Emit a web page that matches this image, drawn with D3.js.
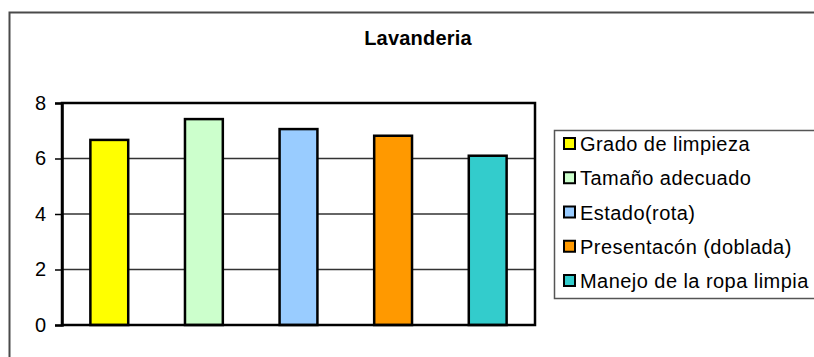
<!DOCTYPE html>
<html>
<head>
<meta charset="utf-8">
<script src="https://cdn.jsdelivr.net/npm/d3@7"></script>
<style>
  html, body { margin: 0; padding: 0; background: #fff; }
  svg { display: block; font-family: Arial, "Liberation Sans", sans-serif; }
</style>
</head>
<body>
<svg id="chart" width="814" height="357"></svg>
<script>
// Lavanderia survey scores
const categories = ["Grado de limpieza", "Tamaño adecuado", "Estado(rota)", "Presentacón (doblada)", "Manejo de la ropa limpia"];
const values = [6.67, 7.42, 7.06, 6.82, 6.10];
const colors = ["#FFFF00", "#CCFFCC", "#99CCFF", "#FF9900", "#33CCCC"];
const yTicks = [0, 2, 4, 6, 8];
const title = "Lavanderia";

const svg = d3.select("#chart");

// outer chart frame
svg.append("rect")
  .attr("x", 9.5).attr("y", 12.5)
  .attr("width", 830).attr("height", 370)
  .attr("fill", "#fff").attr("stroke", "#4a4a4a").attr("stroke-width", 2);

svg.append("text")
  .attr("x", 418).attr("y", 45)
  .attr("text-anchor", "middle")
  .attr("font-size", 20).attr("font-weight", "bold")
  .attr("letter-spacing", 0.2)
  .attr("fill", "#000")
  .text(title);

const plot = { left: 62, right: 535, top: 103, bottom: 325 };

const x = d3.scaleBand()
  .domain(categories)
  .range([plot.left, plot.right])
  .paddingInner(0.6)
  .paddingOuter(0.3);

const y = d3.scaleLinear()
  .domain([0, 8])
  .range([plot.bottom, plot.top]);

// gridlines
svg.append("g")
  .selectAll("line")
  .data(yTicks.filter(t => t > 0 && t < 8))
  .join("line")
  .attr("x1", plot.left).attr("x2", plot.right)
  .attr("y1", d => y(d)).attr("y2", d => y(d))
  .attr("stroke", "#333").attr("stroke-width", 1.5);

// bars
svg.append("g")
  .selectAll("rect")
  .data(values)
  .join("rect")
  .attr("x", (d, i) => x(categories[i]))
  .attr("y", d => y(d))
  .attr("width", x.bandwidth())
  .attr("height", d => y(0) - y(d))
  .attr("fill", (d, i) => colors[i])
  .attr("stroke", "#000").attr("stroke-width", 2.5);

// plot area border
svg.append("rect")
  .attr("x", plot.left).attr("y", plot.top)
  .attr("width", plot.right - plot.left).attr("height", plot.bottom - plot.top)
  .attr("fill", "none").attr("stroke", "#000").attr("stroke-width", 2.5);

// y axis
const yAxis = svg.append("g")
  .attr("transform", `translate(${plot.left},0)`)
  .call(d3.axisLeft(y).tickValues(yTicks).tickSize(7).tickPadding(9).tickFormat(d3.format("d")));
yAxis.select(".domain").attr("stroke", "#000").attr("stroke-width", 2.5);
yAxis.selectAll(".tick line").attr("stroke", "#000").attr("stroke-width", 1.5);
yAxis.selectAll(".tick text")
  .attr("font-size", 20).attr("font-family", "Arial, 'Liberation Sans', sans-serif").attr("fill", "#000");

// legend
const legend = svg.append("g");
legend.append("rect")
  .attr("x", 554.5).attr("y", 130.5)
  .attr("width", 300).attr("height", 168)
  .attr("fill", "#fff").attr("stroke", "#555").attr("stroke-width", 1.5);

const rowY = d3.scalePoint().domain(categories).range([144, 281]);

const items = legend.selectAll("g.item")
  .data(categories)
  .join("g").attr("class", "item")
  .attr("transform", d => `translate(0,${rowY(d)})`);

items.append("rect")
  .attr("x", 564).attr("y", -6)
  .attr("width", 11).attr("height", 11)
  .attr("fill", (d, i) => colors[i])
  .attr("stroke", "#000").attr("stroke-width", 2);

items.append("text")
  .attr("x", 580).attr("y", 0)
  .attr("dy", "0.35em")
  .attr("font-size", 20)
  .attr("letter-spacing", 0.45)
  .attr("fill", "#000")
  .text(d => d);
</script>
</body>
</html>
